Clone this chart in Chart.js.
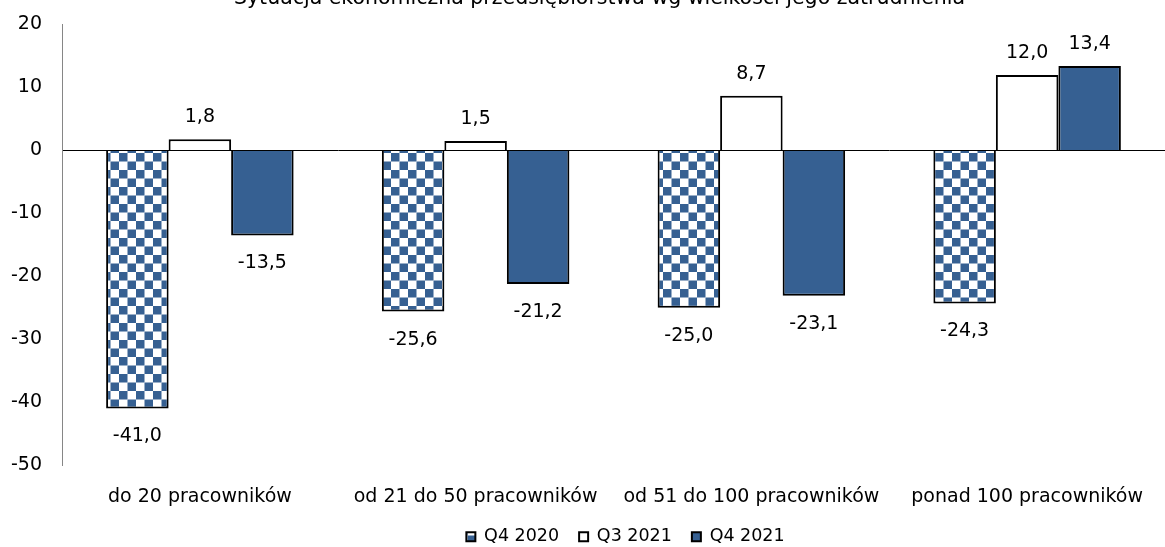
<!DOCTYPE html>
<html>
<head>
<meta charset="utf-8">
<script src="https://cdn.jsdelivr.net/npm/chart.js@4"></script>
<style>
  html, body { margin: 0; padding: 0; background: #fff; }
  #wrap { width: 1165px; height: 547px; }
</style>
</head>
<body>
<div id="wrap"><canvas id="chart" width="1165" height="547"></canvas></div>
<script>
const title = 'Sytuacja ekonomiczna przedsiębiorstwa wg wielkości jego zatrudnienia';
const categories = ['do 20 pracowników', 'od 21 do 50 pracowników', 'od 51 do 100 pracowników', 'ponad 100 pracowników'];
const seriesNames = ['Q4 2020', 'Q3 2021', 'Q4 2021'];
const q4_2020 = [-41.0, -25.6, -25.0, -24.3];
const q3_2021 = [1.8, 1.5, 8.7, 12.0];
const q4_2021 = [-13.5, -21.2, -23.1, 13.4];
const yTicks = [20, 10, 0, -10, -20, -30, -40, -50];

const BLUE = '#366092';
const FONT = 'DejaVu Sans, Verdana, sans-serif';

// checkerboard fill for the first series
function checker() {
  const c = document.createElement('canvas');
  c.width = 17; c.height = 17;
  const g = c.getContext('2d');
  g.fillStyle = '#fff';
  g.fillRect(0, 0, 17, 17);
  g.fillStyle = BLUE;
  g.fillRect(0, 0, 8.5, 8.5);
  g.fillRect(8.5, 8.5, 8.5, 8.5);
  return g.createPattern(c, 'repeat');
}
const ctx = document.getElementById('chart').getContext('2d');
const pattern = checker();

const fmt = v => v.toFixed(1).replace('.', ',');

// value labels + cut-off title
const labelPlugin = {
  id: 'labels',
  afterLayout(chart) {
    // legend sits a bit right of centre in the original
    chart.legend.left += 43;
    chart.legend.right += 43;
  },
  afterDatasetsDraw(chart) {
    const c = chart.ctx;
    c.save();
    c.font = '19px ' + FONT;
    c.fillStyle = '#000';
    c.textAlign = 'center';
    c.textBaseline = 'middle';
    chart.data.datasets.forEach((ds, i) => {
      chart.getDatasetMeta(i).data.forEach((bar, j) => {
        const v = ds.data[j];
        const y = v >= 0 ? bar.y - 22 : bar.y + 28;
        c.fillText(fmt(v), bar.x, y);
      });
    });
    c.font = '20.5px ' + FONT;
    c.textBaseline = 'alphabetic';
    c.fillText(title, chart.width / 2 + 17, 4);
    c.restore();
  }
};

new Chart(ctx, {
  type: 'bar',
  data: {
    labels: categories,
    datasets: [
      { label: seriesNames[0], data: q4_2020, backgroundColor: pattern, borderColor: '#000', borderWidth: 2 },
      { label: seriesNames[1], data: q3_2021, backgroundColor: '#fff', borderColor: '#000', borderWidth: 2 },
      { label: seriesNames[2], data: q4_2021, backgroundColor: BLUE, borderColor: '#000', borderWidth: 2 }
    ]
  },
  options: {
    responsive: false,
    animation: false,
    layout: { padding: { top: 0, right: 0, bottom: -8.5, left: 0 } },
    datasets: { bar: { categoryPercentage: 0.68, barPercentage: 1.0 } },
    plugins: {
      legend: {
        position: 'bottom',
        labels: {
          font: { family: FONT, size: 17.5 },
          color: '#000',
          boxWidth: 9,
          boxHeight: 9,
          padding: 20,
          useBorderRadius: false
        }
      },
      title: { display: false },
      tooltip: { enabled: false }
    },
    scales: {
      x: {
        offset: true,
        grid: { display: false, drawTicks: true, tickLength: 20 },
        border: { display: false },
        ticks: { font: { family: FONT, size: 19 }, color: '#000', padding: 0, maxRotation: 0, autoSkip: false }
      },
      y: {
        min: -50,
        max: 20,
        afterBuildTicks: s => { s.ticks = yTicks.map(v => ({ value: v })); },
        afterFit: s => { s.width = 62; },
        grid: {
          drawTicks: false,
          color: c => c.tick && c.tick.value === 0 ? '#000' : 'rgba(0,0,0,0)',
          lineWidth: 1
        },
        border: { color: '#868686', width: 1 },
        ticks: { font: { family: FONT, size: 19, lineHeight: 0.48 }, color: '#000', padding: 20 }
      }
    }
  },
  plugins: [labelPlugin]
});
</script>
</body>
</html>
